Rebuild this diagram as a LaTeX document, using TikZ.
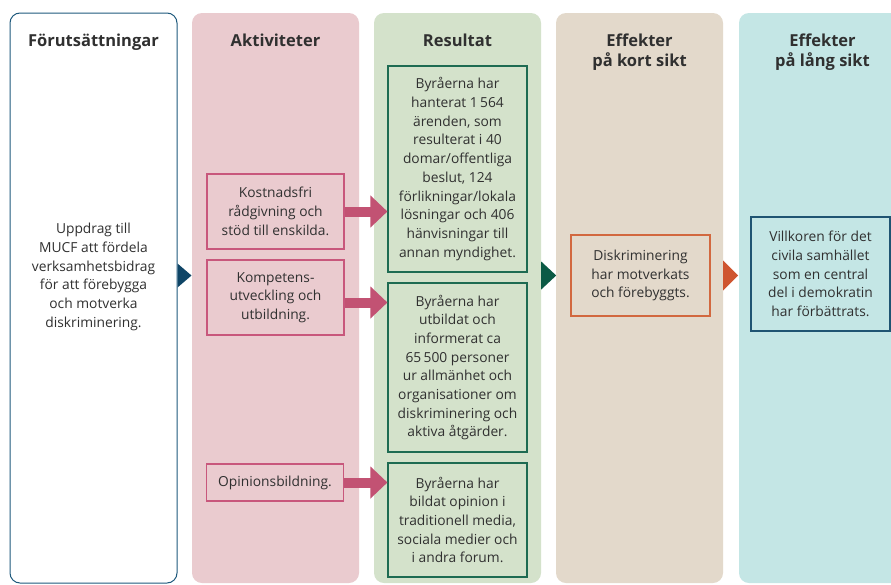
\documentclass[tikz,border=0pt]{standalone}
\usepackage{fontspec}
\setmainfont{Open Sans}
\usepackage{xcolor}
\usetikzlibrary{arrows.meta,calc,positioning}
\definecolor{navy}{HTML}{0F4566}
\definecolor{navyline}{HTML}{1F5A7D}
\definecolor{pinkbg}{HTML}{EACBCF}
\definecolor{pinkline}{HTML}{C8577C}
\definecolor{pinkarrow}{HTML}{C25273}
\definecolor{greenbg}{HTML}{D4E2CB}
\definecolor{greenline}{HTML}{1E6B52}
\definecolor{greentri}{HTML}{0B5A45}
\definecolor{sandbg}{HTML}{E3D9CB}
\definecolor{orangeline}{HTML}{D2683F}
\definecolor{orangetri}{HTML}{CF5530}
\definecolor{cyanbg}{HTML}{C4E6E5}
\definecolor{blueline}{HTML}{1F5472}
\definecolor{textgrey}{HTML}{303030}
\tikzset{
    phase-column/.style = {rectangle, rounded corners=10pt, minimum width=167pt, minimum height=570pt, inner sep=0pt},
    phase-title/.style = {anchor=north, align=center, inner sep=0pt, text=textgrey, font=\fontsize{16.5}{20.3}\selectfont\bfseries},
    plain-text/.style = {align=center, inner sep=0pt, text=textgrey, font=\fontsize{13.8}{18.7}\selectfont},
    flow-box/.style = {plain-text, rectangle, line width=1.1pt, minimum width=139pt},
    pink-box/.style = {flow-box, draw=pinkline, minimum width=137pt},
    green-box/.style = {flow-box, draw=greenline},
    fat-arrow/.style = {draw=pinkarrow, line width=10pt, -{Triangle[length=17pt, width=31pt]}},
}

\begin{document}
\begin{tikzpicture}[x=1pt, y=-1pt]
\useasboundingbox (0,0) rectangle (891,584);
\fill[white] (0,0) rectangle (891,584);
\clip (0,0) rectangle (891,584);

\node[phase-column, draw=navyline, line width=1pt, fill=white] (col1) at (93.5,298) {};
\node[phase-column, fill=pinkbg] (col2) at (275.5,298) {};
\node[phase-column, fill=greenbg] (col3) at (457.5,298) {};
\node[phase-column, fill=sandbg] (col4) at (639.5,298) {};
\node[phase-column, fill=cyanbg] (col5) at (822.5,298) {};

\node[phase-title, below=19.4pt] at (col1.north) {\strut Förutsättningar};
\node[phase-title, below=19.4pt] at (col2.north) {\strut Aktiviteter};
\node[phase-title, below=19.4pt] at (col3.north) {\strut Resultat};
\node[phase-title, below=19.4pt] at (col4.north) {\strut Effekter\\på kort sikt};
\node[phase-title, below=19.4pt] at (col5.north) {\strut Effekter\\på lång sikt};

\node[plain-text] (uppdrag) at (93.5,277) {Uppdrag till\\MUCF att fördela\\verksamhetsbidrag\\för att förebygga\\och motverka\\diskriminering.};

\node[pink-box, minimum height=75pt] (kostnadsfri) at (275.5,211.5) {Kostnadsfri\\rådgivning och\\stöd till enskilda.};
\node[pink-box, minimum height=75pt] (kompetens) at (275.5,297.5) {Kompetens-\\utveckling och\\utbildning.};
\node[pink-box, minimum height=37pt] (opinion) at (275,482.5) {Opinionsbildning.};

\node[green-box, minimum height=206pt] (hanterat) at (457.5,169) {Byråerna har\\hanterat 1\,564\\ärenden, som\\resulterat i 40\\domar/offentliga\\beslut, 124\\förlikningar/lokala\\lösningar och 406\\hänvisningar till\\annan myndighet.};
\node[green-box, minimum height=169pt] (utbildat) at (457.5,367.5) {Byråerna har\\utbildat och\\informerat ca\\65\,500 personer\\ur allmänhet och\\organisationer om\\diskriminering och\\aktiva åtgärder.};
\node[green-box, minimum height=114pt] (bildat) at (457.5,520) {Byråerna har\\bildat opinion i\\traditionell media,\\sociala medier och\\i andra forum.};

\node[flow-box, draw=orangeline, minimum height=81pt] (diskriminering) at (640.5,275.5) {Diskriminering\\har motverkats\\och förebyggts.};
\node[flow-box, draw=blueline, minimum height=114pt] (villkoren) at (820.5,274) {Villkoren för det\\civila samhället\\som en central\\del i demokratin\\har förbättrats.};

\draw[fat-arrow] (kostnadsfri.east) -- (kostnadsfri.east -| hanterat.west);
\draw[fat-arrow] ([yshift=-5pt]kompetens.east) -- ([yshift=-5pt]kompetens.east -| utbildat.west);
\draw[fat-arrow] (opinion.east) -- (opinion.east -| bildat.west);

\fill[navy] ($(col1.east |- diskriminering)+(0,-12)$) -- ++(14,12) -- ++(-14,12) -- cycle;
\fill[greentri] ($(col3.east |- diskriminering)+(0,-14)$) -- ++(15,14) -- ++(-15,14) -- cycle;
\fill[orangetri] ($(col4.east |- diskriminering)+(0,-15)$) -- ++(15,15) -- ++(-15,15) -- cycle;
\end{tikzpicture}
\end{document}
